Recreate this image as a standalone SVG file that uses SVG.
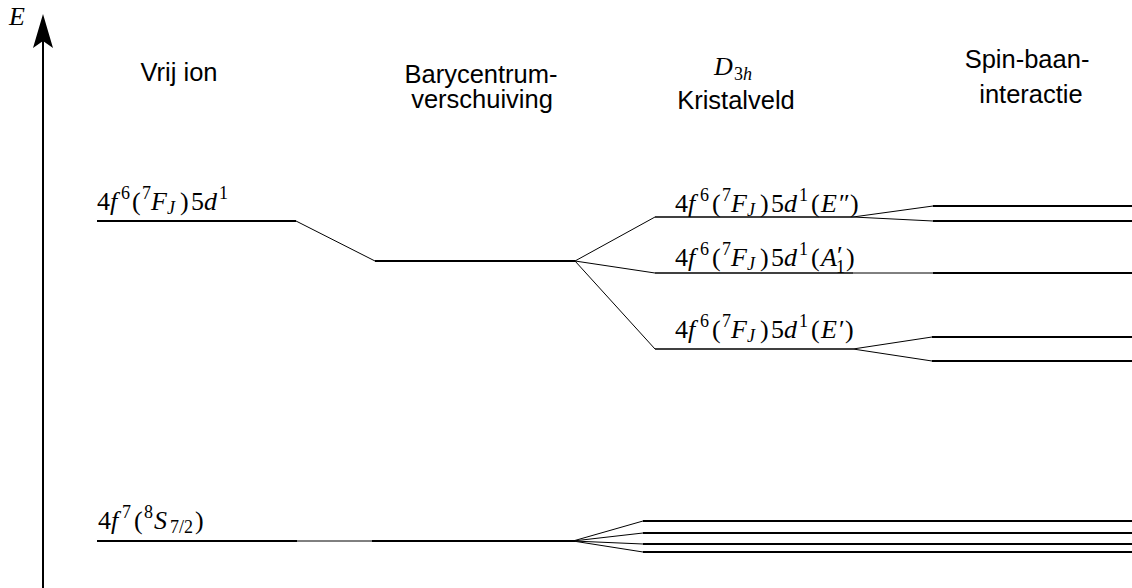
<svg xmlns="http://www.w3.org/2000/svg" width="1132" height="588" viewBox="0 0 1132 588">
<style>
.lv{stroke:#000;stroke-width:2;fill:none}
.lt{stroke:#000;stroke-width:1.5;fill:none}
.cn{stroke:#000;stroke-width:1;fill:none}
.t{font-family:"Liberation Sans",Arial,sans-serif;font-size:25.5px;text-anchor:middle;fill:#000}
.m{font-family:"Liberation Serif","Times New Roman",serif;font-size:26px;fill:#000}
.i{font-style:italic}
.s{font-size:18px}
</style>
<rect width="1132" height="588" fill="#fff"/>
<g id="axis">
<line x1="43" y1="588" x2="43" y2="40" stroke="#000" stroke-width="2"/>
<path d="M43,14 L53,48 L43,41 L33,48 Z" fill="#000"/>
<text class="m i" x="9" y="25" font-size="26">E</text>
</g>
<g id="headers">
<text class="t" x="179" y="81">Vrij ion</text>
<text class="t" x="481" y="83">Barycentrum-</text>
<text class="t" x="482" y="108">verschuiving</text>
<text class="m" y="75"><tspan class="i" x="714" font-size="26">D</tspan><tspan class="s" x="734" y="80">3</tspan><tspan class="s i" x="743" y="80">h</tspan></text>
<text class="t" x="736" y="109">Kristalveld</text>
<text class="t" x="1027" y="68">Spin-baan-</text>
<text class="t" x="1031" y="103">interactie</text>
</g>
<g id="connectors">
<line class="cn" x1="296" y1="221" x2="375" y2="261"/>
<line class="cn" x1="575" y1="261" x2="655" y2="217"/>
<line class="cn" x1="575" y1="261" x2="655" y2="273"/>
<line class="cn" x1="575" y1="261" x2="655" y2="349"/>
<line class="cn" x1="853" y1="217" x2="933" y2="206"/>
<line class="cn" x1="853" y1="217" x2="933" y2="221"/>
<line class="cn" x1="853" y1="273" x2="933" y2="273"/>
<line class="cn" x1="853" y1="349" x2="932" y2="337"/>
<line class="cn" x1="853" y1="349" x2="932" y2="361"/>
<line class="cn" x1="297" y1="541" x2="372" y2="541"/>
<line class="cn" x1="573" y1="541" x2="643" y2="521"/>
<line class="cn" x1="573" y1="541" x2="643" y2="533"/>
<line class="cn" x1="573" y1="541" x2="643" y2="544"/>
<line class="cn" x1="573" y1="541" x2="643" y2="552"/>
</g>
<g id="free-excited">
<line class="lv" x1="97" y1="221" x2="296" y2="221"/>
<text class="m" y="210"><tspan x="97">4</tspan><tspan class="i" x="110">f</tspan><tspan class="s" x="121" y="199">6</tspan><tspan x="132" y="210">(</tspan><tspan class="s" x="142" y="199">7</tspan><tspan class="i" x="151" y="210">F</tspan><tspan class="s i" x="167" y="214">J</tspan><tspan x="180" y="210">)</tspan><tspan x="191">5</tspan><tspan class="i" x="204">d</tspan><tspan class="s" x="219" y="199">1</tspan></text>
</g>
<g id="free-ground">
<line class="lv" x1="97" y1="541" x2="297" y2="541"/>
<text class="m" y="529"><tspan x="98">4</tspan><tspan class="i" x="111">f</tspan><tspan class="s" x="122" y="518">7</tspan><tspan x="134" y="529">(</tspan><tspan class="s" x="144" y="518">8</tspan><tspan class="i" x="154" y="529">S</tspan><tspan class="s" x="170" y="533">7/2</tspan><tspan x="195" y="529">)</tspan></text>
</g>
<g id="bary-excited">
<line class="lv" x1="375" y1="261" x2="575" y2="261"/>
</g>
<g id="bary-ground">
<line class="lv" x1="372" y1="541" x2="575" y2="541"/>
</g>
<g id="cf-E2">
<line class="lt" x1="655" y1="217" x2="853" y2="217"/>
<text class="m" y="212"><tspan x="675">4</tspan><tspan class="i" x="688">f</tspan><tspan class="s" x="700" y="201">6</tspan><tspan x="712" y="212">(</tspan><tspan class="s" x="722" y="201">7</tspan><tspan class="i" x="731" y="212">F</tspan><tspan class="s i" x="747" y="216">J</tspan><tspan x="760" y="212">)</tspan><tspan x="771">5</tspan><tspan class="i" x="784">d</tspan><tspan class="s" x="799" y="201">1</tspan><tspan x="811" y="212">(</tspan><tspan class="i" x="821">E</tspan><tspan x="839">″</tspan><tspan x="850">)</tspan></text>
</g>
<g id="cf-A1">
<line class="lt" x1="655" y1="273" x2="853" y2="273"/>
<text class="m" y="266"><tspan x="675">4</tspan><tspan class="i" x="688">f</tspan><tspan class="s" x="700" y="255">6</tspan><tspan x="712" y="266">(</tspan><tspan class="s" x="722" y="255">7</tspan><tspan class="i" x="731" y="266">F</tspan><tspan class="s i" x="747" y="270">J</tspan><tspan x="760" y="266">)</tspan><tspan x="771">5</tspan><tspan class="i" x="784">d</tspan><tspan class="s" x="799" y="255">1</tspan><tspan x="811" y="266">(</tspan><tspan class="i" x="821">A</tspan><tspan x="837" y="264">′</tspan><tspan class="s" x="836" y="273">1</tspan><tspan x="846" y="266">)</tspan></text>
</g>
<g id="cf-E1">
<line class="lt" x1="655" y1="349" x2="853" y2="349"/>
<text class="m" y="338"><tspan x="675">4</tspan><tspan class="i" x="688">f</tspan><tspan class="s" x="700" y="327">6</tspan><tspan x="712" y="338">(</tspan><tspan class="s" x="722" y="327">7</tspan><tspan class="i" x="731" y="338">F</tspan><tspan class="s i" x="747" y="342">J</tspan><tspan x="760" y="338">)</tspan><tspan x="771">5</tspan><tspan class="i" x="784">d</tspan><tspan class="s" x="799" y="327">1</tspan><tspan x="811" y="338">(</tspan><tspan class="i" x="821">E</tspan><tspan x="839">′</tspan><tspan x="845">)</tspan></text>
</g>
<g id="so-E2a"><line class="lv" x1="933" y1="206" x2="1132" y2="206"/></g>
<g id="so-E2b"><line class="lv" x1="933" y1="221" x2="1132" y2="221"/></g>
<g id="so-A1"><line class="lv" x1="933" y1="273" x2="1132" y2="273"/></g>
<g id="so-E1a"><line class="lv" x1="932" y1="337" x2="1132" y2="337"/></g>
<g id="so-E1b"><line class="lv" x1="932" y1="361" x2="1132" y2="361"/></g>
<g id="ground-1"><line class="lv" x1="643" y1="521" x2="1132" y2="521"/></g>
<g id="ground-2"><line class="lv" x1="643" y1="533" x2="1132" y2="533"/></g>
<g id="ground-3"><line class="lv" x1="643" y1="544" x2="1132" y2="544"/></g>
<g id="ground-4"><line class="lv" x1="643" y1="552" x2="1132" y2="552"/></g>
</svg>
